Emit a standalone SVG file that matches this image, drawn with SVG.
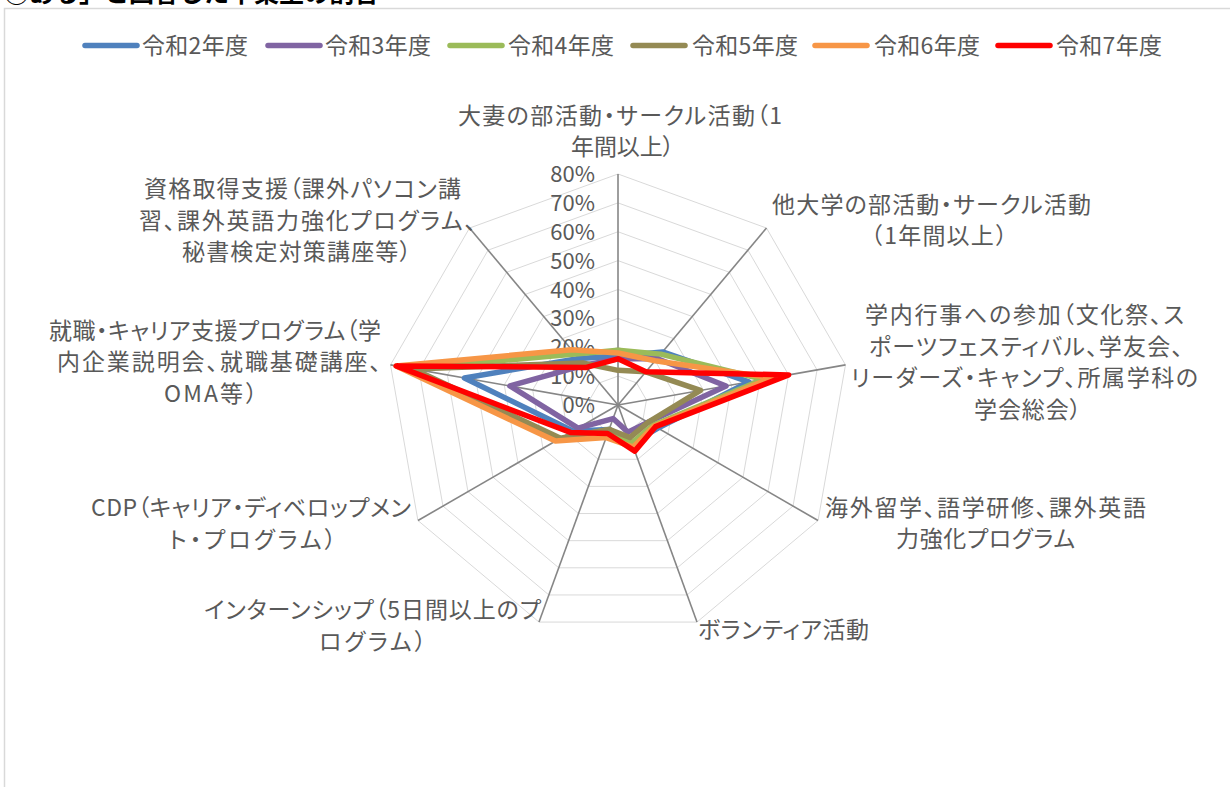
<svg xmlns="http://www.w3.org/2000/svg" width="1230" height="787" viewBox="0 0 1230 787">
<style>
text{font-family:"Noto Sans CJK JP","Noto Sans",sans-serif;fill:#595959;font-size:23px}
.l{font-feature-settings:"palt"}
.pct{text-anchor:end;font-size:22px}
.ring{fill:none;stroke:#D9D9D9;stroke-width:1}
.axis{stroke:#868686;stroke-width:1.6}
.s{fill:none;stroke-width:5.5;stroke-linejoin:round}
.lg{stroke-width:5.5;stroke-linecap:round}
</style>
<rect x="0" y="0" width="1230" height="787" fill="#FFFFFF"/>
<text x="4" y="2" style="font-size:25px;font-weight:bold;fill:#000000">③ある」と回答した卒業生の割合</text>
<rect x="4.5" y="8.5" width="1300" height="900" fill="#FFFFFF" stroke="#D9D9D9" stroke-width="1.5"/>

<g id="legend">
<line class="lg" x1="85" y1="45.5" x2="137" y2="45.5" stroke="#4F81BD"/><text x="142" y="54" textLength="106">令和2年度</text>
<line class="lg" x1="268" y1="45.5" x2="320" y2="45.5" stroke="#8064A2"/><text x="325" y="54" textLength="106">令和3年度</text>
<line class="lg" x1="450" y1="45.5" x2="502" y2="45.5" stroke="#9BBB59"/><text x="508" y="54" textLength="106">令和4年度</text>
<line class="lg" x1="633" y1="45.5" x2="685" y2="45.5" stroke="#948A54"/><text x="692" y="54" textLength="106">令和5年度</text>
<line class="lg" x1="815" y1="45.5" x2="867" y2="45.5" stroke="#F79646"/><text x="874" y="54" textLength="106">令和6年度</text>
<line class="lg" x1="998" y1="45.5" x2="1050" y2="45.5" stroke="#FF0000" stroke-width="6.5"/><text x="1056" y="54" textLength="106">令和7年度</text>
</g>

<g id="grid" transform="translate(618,405)">
<polygon class="ring" points="0,-28.88 18.56,-22.12 28.44,-5.01 25.01,14.44 9.88,27.13 -9.88,27.13 -25.01,14.44 -28.44,-5.01 -18.56,-22.12"/>
<polygon class="ring" points="0,-57.75 37.12,-44.24 56.87,-10.03 50.01,28.88 19.75,54.27 -19.75,54.27 -50.01,28.88 -56.87,-10.03 -37.12,-44.24"/>
<polygon class="ring" points="0,-86.63 55.68,-66.36 85.31,-15.04 75.02,43.31 29.63,81.4 -29.63,81.4 -75.02,43.31 -85.31,-15.04 -55.68,-66.36"/>
<polygon class="ring" points="0,-115.5 74.24,-88.47 113.74,-20.05 100.02,57.75 39.5,108.54 -39.5,108.54 -100.02,57.75 -113.74,-20.05 -74.24,-88.47"/>
<polygon class="ring" points="0,-144.38 92.81,-110.59 142.18,-25.06 125.03,72.19 49.38,135.67 -49.38,135.67 -125.03,72.19 -142.18,-25.06 -92.81,-110.59"/>
<polygon class="ring" points="0,-173.25 111.37,-132.71 170.62,-30.08 150.03,86.63 59.25,162.8 -59.25,162.8 -150.03,86.63 -170.62,-30.08 -111.37,-132.71"/>
<polygon class="ring" points="0,-202.13 129.93,-154.83 199.05,-35.09 175.04,101.06 69.13,189.94 -69.13,189.94 -175.04,101.06 -199.05,-35.09 -129.93,-154.83"/>
<polygon class="ring" points="0,-231 148.49,-176.95 227.49,-40.1 200.05,115.5 79,217.07 -79,217.07 -200.05,115.5 -227.49,-40.1 -148.49,-176.95"/>
</g>

<g id="axes">
<line class="axis" x1="618" y1="405" x2="618" y2="174"/>
<line class="axis" x1="618" y1="405" x2="766.5" y2="228"/>
<line class="axis" x1="618" y1="405" x2="845.5" y2="364.9"/>
<line class="axis" x1="618" y1="405" x2="818" y2="520.5"/>
<line class="axis" x1="618" y1="405" x2="697" y2="622"/>
<line class="axis" x1="618" y1="405" x2="539" y2="622"/>
<line class="axis" x1="618" y1="405" x2="418" y2="520.5"/>
<line class="axis" x1="618" y1="405" x2="390.5" y2="364.9"/>
<line class="axis" x1="618" y1="405" x2="469.5" y2="228"/>
</g>

<g id="scale">
<text class="pct" x="595" y="413">0%</text>
<text class="pct" x="595" y="384">10%</text>
<text class="pct" x="595" y="355">20%</text>
<text class="pct" x="595" y="326">30%</text>
<text class="pct" x="595" y="297.5">40%</text>
<text class="pct" x="595" y="268.6">50%</text>
<text class="pct" x="595" y="239.8">60%</text>
<text class="pct" x="595" y="211">70%</text>
<text class="pct" x="595" y="182">80%</text>
</g>

<g id="series" transform="translate(618,405)">
<polygon id="r2" class="s" stroke="#4F81BD" points="0,-49.09 44.55,-53.08 130.81,-23.06 40.01,23.1 13.83,37.99 -8.89,24.42 -45.01,25.99 -153.56,-27.07 -38.98,-46.45"/>
<polygon id="r3" class="s" stroke="#8064A2" points="0,-46.2 38.98,-46.45 108.06,-19.05 30.01,17.33 9.88,27.14 -4.94,13.57 -40.01,23.1 -108.06,-19.05 -33.41,-39.82"/>
<polygon id="r4" class="s" stroke="#9BBB59" points="0,-54.86 42.69,-50.87 145.02,-25.56 35.01,20.21 13.83,37.99 -8.89,24.42 -60.01,34.65 -207.59,-36.59 -42.69,-50.87"/>
<polygon id="r5" class="s" stroke="#948A54" points="0,-34.65 27.84,-33.18 82.47,-14.54 30.01,17.33 11.85,32.56 -8.89,24.42 -57.51,33.21 -204.74,-36.09 -35.26,-42.02"/>
<polygon id="r6" class="s" stroke="#F79646" points="0,-51.98 37.12,-44.24 153.56,-27.07 36.26,20.93 15.31,42.06 -11.85,32.56 -62.52,36.09 -221.8,-39.1 -46.4,-55.3"/>
<polygon id="r7" class="s" stroke="#FF0000" stroke-width="7" points="0,-46.2 27.84,-33.18 170.62,-30.08 37.51,21.66 16.79,46.13 -10.37,28.49 -47.51,27.43 -221.8,-39.1 -31.55,-37.6"/>
</g>

<g id="label-0"><text class="l" x="458" y="124" textLength="324">大妻の部活動・サークル活動（1</text><text class="l" x="571" y="155" textLength="103">年間以上）</text></g>
<g id="label-1"><text class="l" x="772" y="213" textLength="319">他大学の部活動・サークル活動</text><text x="860" y="244" textLength="158">（1年間以上）</text></g>
<g id="label-2"><text class="l" x="865" y="323" textLength="319">学内行事への参加（文化祭、ス</text><text class="l" x="869" y="355" textLength="314">ポーツフェスティバル、学友会、</text><text class="l" x="851" y="386" textLength="347">リーダーズ・キャンプ、所属学科の</text><text class="l" x="974" y="418" textLength="107">学会総会）</text></g>
<g id="label-3"><text class="l" x="825" y="516" textLength="321">海外留学、語学研修、課外英語</text><text class="l" x="896" y="547" textLength="179">力強化プログラム</text></g>
<g id="label-4"><text class="l" x="698" y="638" textLength="171">ボランティア活動</text></g>
<g id="label-5"><text class="l" x="204" y="618" textLength="337">インターンシップ（5日間以上のプ</text><text class="l" x="319" y="650" textLength="107">ログラム）</text></g>
<g id="label-6"><text class="l" x="91" y="516" textLength="320">CDP（キャリア・ディベロップメン</text><text class="l" x="169" y="548" textLength="167">ト・プログラム）</text></g>
<g id="label-7"><text class="l" x="49" y="339" textLength="332">就職・キャリア支援プログラム（学</text><text class="l" x="57" y="370" textLength="324">内企業説明会、就職基礎講座、</text><text x="164" y="402" textLength="104">OMA等）</text></g>
<g id="label-8"><text class="l" x="144" y="197" textLength="317">資格取得支援（課外パソコン講</text><text class="l" x="139" y="229" textLength="337">習、課外英語力強化プログラム、</text><text class="l" x="182" y="260" textLength="229">秘書検定対策講座等）</text></g>
</svg>
